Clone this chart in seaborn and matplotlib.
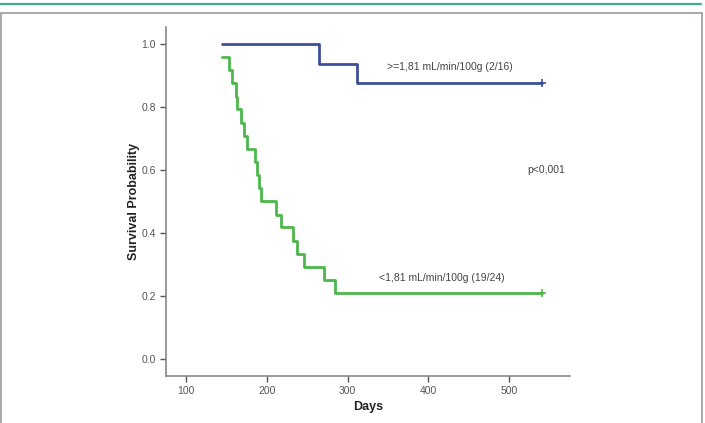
import numpy as np
import pandas as pd
import matplotlib
matplotlib.use("Agg")
import matplotlib.pyplot as plt
import seaborn as sns
from matplotlib.lines import Line2D
from matplotlib.patches import Rectangle

sns.set_style("white")
plt.rcParams['font.family'] = ['Liberation Sans', 'DejaVu Sans']

# Kaplan-Meier step data
high_days = [145, 264, 311, 540]
high_surv = [1.0, 0.9375, 0.875, 0.875]

low_days = [145, 153.5, 157, 162, 163, 168, 171.6, 175, 185.6, 188, 190.5, 193,
            211, 217, 232.5, 237.5, 245.7, 271, 284, 540]
low_surv = [0.958, 0.917, 0.875, 0.833, 0.792, 0.75, 0.708, 0.667, 0.625, 0.583,
            0.542, 0.5, 0.458, 0.417, 0.375, 0.333, 0.292, 0.25, 0.208, 0.208]

high_label = ">=1,81 mL/min/100g (2/16)"
low_label = "<1,81 mL/min/100g (19/24)"
p_text = "p<0,001"

x_ticks = [100, 200, 300, 400, 500]
y_ticks = [0.0, 0.2, 0.4, 0.6, 0.8, 1.0]

blue = "#3f4e9c"
green = "#4cb84b"

df = pd.concat([
    pd.DataFrame({"days": high_days, "surv": high_surv, "group": high_label}),
    pd.DataFrame({"days": low_days, "surv": low_surv, "group": low_label}),
])

fig = plt.figure(figsize=(7.05, 4.23), dpi=100)
ax = fig.add_axes([0.235, 0.111, 0.5735, 0.826])

sns.lineplot(data=df, x="days", y="surv", hue="group",
             palette={high_label: blue, low_label: green},
             estimator=None, sort=False, drawstyle="steps-post",
             linewidth=2, legend=False, ax=ax)

# censored marks at the end of follow-up
ax.scatter([high_days[-1]], [high_surv[-1]], marker="+", s=30, color=blue, linewidths=1.2, zorder=3)
ax.scatter([low_days[-1]], [low_surv[-1]], marker="+", s=30, color=green, linewidths=1.2, zorder=3)

ax.text(426, 0.927, high_label, fontsize=7.5, color="#444444", ha="center", va="center")
ax.text(417, 0.258, low_label, fontsize=7.5, color="#444444", ha="center", va="center")
ax.text(522, 0.6, p_text, fontsize=7.5, color="#444444", ha="left", va="center")

ax.set_xlim(75, 575)
ax.set_ylim(-0.055, 1.055)
ax.set_xticks(x_ticks)
ax.set_yticks(y_ticks)
ax.set_yticklabels([f"{v:.1f}" for v in y_ticks])
ax.tick_params(axis="both", bottom=True, left=True, direction="out", length=4, width=1,
               color="#555555", labelsize=7.5, labelcolor="#555555", pad=3)

for side in ["top", "right"]:
    ax.spines[side].set_visible(False)
for side in ["left", "bottom"]:
    ax.spines[side].set_color("#888888")
    ax.spines[side].set_linewidth(1.2)

ax.set_xlabel("Days", fontsize=9, fontweight="bold", color="#222222", labelpad=4)
ax.set_ylabel("Survival Probability", fontsize=9, fontweight="bold", color="#222222", labelpad=1)

# page decoration: teal rule and grey frame
fig.add_artist(Line2D([0, 0.995], [1 - 4 / 423, 1 - 4 / 423], transform=fig.transFigure,
                      color="#3fae90", linewidth=1.6))
fig.add_artist(Rectangle((0.8 / 705, -0.01), 1 - 4 / 705, 1 - 13 / 423 + 0.01,
                         transform=fig.transFigure,
                         fill=False, edgecolor="#999999", linewidth=1.2))

fig.savefig("out.png", dpi=100)
